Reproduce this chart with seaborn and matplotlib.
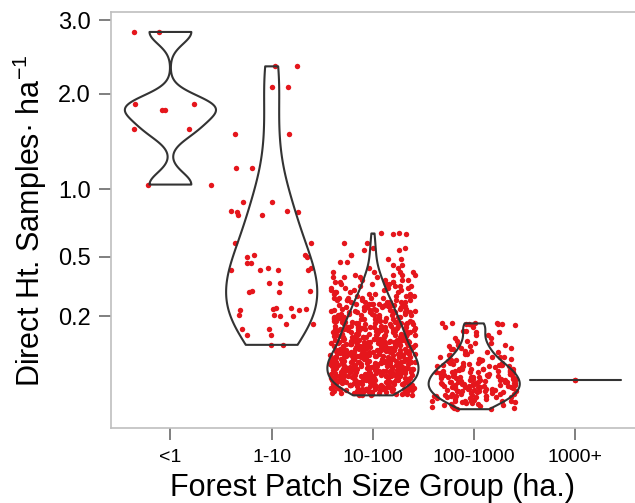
import numpy as np
import pandas as pd
import seaborn as sns
import matplotlib
matplotlib.use("Agg")
import matplotlib.pyplot as plt

# ---------------- data ----------------
categories = ["<1", "1-10", "10-100", "100-1000", "1000+"]

lt1_values = [2.83, 1.87, 1.81, 1.59, 1.04]

g1_10_values = [2.35, 2.08, 1.54, 1.19, 0.89, 0.82, 0.81, 0.79, 0.59, 0.51, 0.50,
                0.46, 0.43, 0.42, 0.42, 0.35, 0.31, 0.305, 0.235, 0.23, 0.225,
                0.205, 0.20, 0.172, 0.154, 0.134, 0.105]

g10_100_levels = [0.011, 0.012, 0.013, 0.014, 0.015, 0.016, 0.017, 0.018, 0.019, 0.020, 0.021, 0.022,
                  0.023, 0.024, 0.025, 0.026, 0.027, 0.028, 0.029, 0.030, 0.031, 0.032, 0.033, 0.034,
                  0.035, 0.036, 0.037, 0.038, 0.039,
                  0.040, 0.042, 0.044, 0.046, 0.048, 0.050, 0.052, 0.054, 0.056, 0.058, 0.060, 0.062,
                  0.063, 0.065, 0.068, 0.070, 0.073, 0.075, 0.078, 0.080, 0.083, 0.085, 0.088,
                  0.090, 0.093, 0.096, 0.099, 0.102, 0.105, 0.108, 0.111, 0.114, 0.117, 0.120,
                  0.123, 0.127, 0.131, 0.135, 0.139, 0.143, 0.147, 0.151, 0.155, 0.159,
                  0.162, 0.166, 0.171, 0.175, 0.180, 0.184, 0.189, 0.193, 0.198,
                  0.205, 0.210, 0.216, 0.221, 0.227, 0.232, 0.238, 0.243, 0.248,
                  0.253, 0.262, 0.270, 0.279, 0.287, 0.296,
                  0.305, 0.315, 0.325, 0.335, 0.345, 0.355,
                  0.365, 0.380, 0.395, 0.410,
                  0.430, 0.450, 0.470, 0.485,
                  0.510, 0.540, 0.553,
                  0.587, 0.645, 0.652]
g10_100_counts = [2, 3, 3, 3, 3, 3, 3, 3, 3, 3, 3, 2,
                  2, 3, 2, 3, 3, 2, 3, 3, 2, 3, 3, 2,
                  3, 3, 2, 3, 2,
                  4, 4, 4, 4, 4, 4, 4, 4, 4, 4, 4, 4,
                  4, 4, 4, 4, 4, 4, 4, 4, 3, 3, 3,
                  4, 3, 3, 3, 3, 4, 3, 3, 4, 3, 3,
                  3, 4, 3, 3, 4, 3, 3, 3, 3, 3,
                  3, 3, 3, 3, 3, 3, 3, 3, 3,
                  3, 2, 3, 2, 3, 2, 3, 2, 2,
                  3, 3, 3, 3, 3, 2,
                  2, 2, 2, 2, 2, 2,
                  2, 2, 2, 2,
                  1, 1, 1, 1,
                  1, 1, 1,
                  1, 1, 1]

g100_1000_levels = [0.0020, 0.0025, 0.0030, 0.0035, 0.0040, 0.0045,
                    0.0050, 0.0056, 0.0062, 0.0068, 0.0074, 0.0080, 0.0086,
                    0.0092, 0.0100, 0.0108, 0.0116, 0.0124, 0.0132, 0.0140,
                    0.0148, 0.0157, 0.0166, 0.0175, 0.0184, 0.0193, 0.0202,
                    0.0212, 0.0224, 0.0236, 0.0248, 0.0260, 0.0272, 0.0284,
                    0.0295, 0.0308, 0.0321, 0.0334, 0.0347, 0.0360, 0.0373,
                    0.0388, 0.0403, 0.0418, 0.0433, 0.0448, 0.0463, 0.0478,
                    0.049, 0.051, 0.053, 0.055, 0.057, 0.059,
                    0.061, 0.064, 0.067, 0.070,
                    0.074, 0.078, 0.082, 0.086,
                    0.089, 0.093, 0.097, 0.101,
                    0.105, 0.110, 0.116,
                    0.125, 0.133,
                    0.143, 0.148,
                    0.161, 0.170, 0.172, 0.174]
g100_1000_counts = [1, 1, 1, 1, 1, 1,
                    1, 1, 1, 2, 1, 1, 1,
                    2, 1, 2, 1, 2, 1, 1,
                    2, 1, 2, 2, 1, 2, 1,
                    2, 2, 2, 2, 2, 1, 1,
                    2, 2, 1, 2, 1, 2, 1,
                    2, 1, 2, 1, 2, 1, 1,
                    2, 1, 2, 1, 1, 1,
                    2, 1, 2, 1,
                    2, 1, 1, 1,
                    1, 1, 1, 1,
                    1, 1, 1,
                    1, 1,
                    1, 1,
                    1, 1, 2, 2]

g1000_values = [0.029]

# ---------------- assemble ----------------
groups = {
    "<1": np.asarray(lt1_values, float),
    "1-10": np.asarray(g1_10_values, float),
    "10-100": np.repeat(g10_100_levels, g10_100_counts).astype(float),
    "100-1000": np.repeat(g100_1000_levels, g100_1000_counts).astype(float),
    "1000+": np.asarray(g1000_values, float),
}
df = pd.concat([pd.DataFrame({"group": k, "value": v}) for k, v in groups.items()],
               ignore_index=True)

# ---------------- style ----------------
sns.set_style("white")
plt.rcParams["font.family"] = ["Liberation Sans", "DejaVu Sans"]
plt.rcParams["mathtext.fontset"] = "custom"
plt.rcParams["mathtext.rm"] = "Liberation Sans"
plt.rcParams["mathtext.it"] = "Liberation Sans:italic"
plt.rcParams["mathtext.bf"] = "Liberation Sans:bold"

fig = plt.figure(figsize=(6.35, 5.03), dpi=100)
ax = fig.add_axes([0.1743, 0.1485, 0.8257, 0.827])


def fwd(x):
    return np.sign(x) * np.sqrt(np.abs(x))


def inv(x):
    return np.sign(x) * np.square(x)


ax.set_yscale("function", functions=(fwd, inv))


def nrd0(kde):
    x = np.asarray(kde.dataset[0], float)
    sd = x.std(ddof=1)
    q75, q25 = np.percentile(x, [75, 25])
    lo = min(sd, (q75 - q25) / 1.34)
    if lo <= 0:
        lo = sd
    return 0.9 * lo * len(x) ** -0.2 / sd


np.random.seed(7)
point_color = "#E5161C"
for _ in range(2):
    sns.stripplot(data=df, x="group", y="value", order=categories, jitter=0.42,
                  color=point_color, size=3.9, linewidth=0, ax=ax, zorder=1)

sns.violinplot(data=df, x="group", y="value", order=categories, cut=0,
               density_norm="width", inner=None, fill=False, color="#333333",
               linecolor="#333333", linewidth=1.5, width=0.9, gridsize=300,
               bw_method=nrd0, ax=ax)

ax.set_xlim(-0.59, 4.588)
ax.set_ylim(-0.00146, 3.124)
ax.set_yticks([0.2, 0.5, 1.0, 2.0, 3.0])
ax.set_yticklabels(["0.2", "0.5", "1.0", "2.0", "3.0"])
ax.set_xticks(range(len(categories)))
ax.set_xticklabels(categories)

for side in ["left", "top", "bottom"]:
    ax.spines[side].set_visible(True)
    ax.spines[side].set_color("#BFBFBF")
    ax.spines[side].set_linewidth(1.2)
ax.spines["right"].set_visible(False)

ax.tick_params(axis="both", which="major", direction="out", length=8.3, width=1.4,
               color="#7F7F7F", labelcolor="black", left=True, bottom=True)
ax.tick_params(axis="x", labelsize=14, pad=6.5)
ax.tick_params(axis="y", labelsize=17, pad=6)

ax.set_xlabel("Forest Patch Size Group (ha.)", fontsize=22, color="black")
ax.set_ylabel("Direct Ht. Samples\u00b7 ha$^{-1}$", fontsize=22, color="black")
ax.xaxis.set_label_coords(0.5, -0.107)
ax.yaxis.set_label_coords(-0.1177, 0.5)

fig.savefig("out.png", dpi=100, facecolor="white")
